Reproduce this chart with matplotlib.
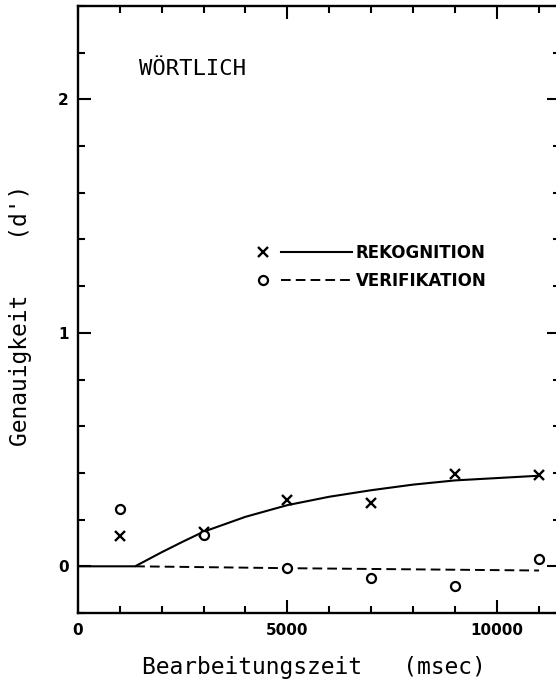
import matplotlib
matplotlib.use("Agg")
import matplotlib.pyplot as plt
from matplotlib.lines import Line2D
from matplotlib.legend_handler import HandlerTuple
from matplotlib.ticker import MultipleLocator, FormatStrFormatter

# data
time_ms = [1000, 3000, 5000, 7000, 9000, 11000]
rekognition = [0.13, 0.148, 0.285, 0.27, 0.395, 0.39]
verifikation = [0.245, 0.133, -0.008, -0.048, -0.084, 0.03]

# fitted curves
fit_rek_t = [0, 1370, 2000, 2500, 3000, 4000, 5000, 6000, 7000, 8000, 9000, 10000, 11000]
fit_rek_d = [0, 0, 0.060, 0.105, 0.148, 0.212, 0.262, 0.298, 0.326, 0.35, 0.368, 0.378, 0.388]
fit_ver_t = [1370, 5000, 11000]
fit_ver_d = [0, -0.008, -0.018]

labels = ['REKOGNITION', 'VERIFIKATION']

W, H = 556, 685
fig = plt.figure(figsize=(W / 100, H / 100), dpi=100)
# right spine sits just outside the scanned page
ax = fig.add_axes([77.7 / W, 1 - 613 / H, (560 - 77.7) / W, (613 - 6) / H])

## DATA
ax.plot(fit_rek_t, fit_rek_d, color='black', lw=1.5)
ax.plot(fit_ver_t, fit_ver_d, color='black', lw=1.4, dashes=(5, 2.6))
ax.plot(time_ms, rekognition, ls='none', marker='x', ms=7, mew=1.7, color='black')
ax.plot(time_ms, verifikation, ls='none', marker='o', ms=6.5, mew=1.6,
        mfc='white', mec='black')

## LEGEND  (marker, gap, line, text)
h_rek = (Line2D([], [], ls='none', marker='x', ms=7, mew=1.7, color='black'),
         Line2D([], [], color='black', lw=1.5))
h_ver = (Line2D([], [], ls='none', marker='o', ms=6.5, mew=1.6, mfc='white', mec='black'),
         Line2D([], [], color='black', lw=1.4, dashes=(5, 2.6)))
leg = ax.legend([h_rek, h_ver], labels,
                handler_map={tuple: HandlerTuple(ndivide=2, pad=-1.0)},
                loc='center left', bbox_to_anchor=(0.31, 0.57),
                frameon=False, borderpad=0, borderaxespad=0,
                handlelength=7.5, handletextpad=0.22, labelspacing=0.62,
                prop=dict(family='DejaVu Sans', weight='bold', size=12))

## TEXT
ax.text(0.237, 0.896, 'WÖRTLICH', transform=ax.transAxes, ha='center', va='center',
        family='DejaVu Sans Mono', fontsize=16)

ax.set_xlabel('Bearbeitungszeit   (msec)', family='DejaVu Sans Mono', fontsize=16.5,
              va='center')
ax.xaxis.set_label_coords(0.49, -0.0906)
ax.set_ylabel("Genauigkeit    (d')", family='DejaVu Sans Mono', fontsize=16.5,
              va='center')
ax.yaxis.set_label_coords(-0.1196, 0.491)

## FORMATTING
ax.set_xlim(0, 11500)
ax.set_ylim(-0.2, 2.4)
ax.xaxis.set_major_locator(MultipleLocator(5000))
ax.xaxis.set_minor_locator(MultipleLocator(1000))
ax.yaxis.set_major_locator(MultipleLocator(1))
ax.yaxis.set_minor_locator(MultipleLocator(0.2))
ax.xaxis.set_major_formatter(FormatStrFormatter('%d'))
ax.yaxis.set_major_formatter(FormatStrFormatter('%d'))

ax.tick_params(which='both', direction='in', top=True, right=True, width=1.5,
               color='black')
ax.tick_params(which='major', length=9.5)
ax.tick_params(which='minor', length=5)
ax.tick_params(axis='x', which='major', pad=7)
ax.tick_params(axis='y', which='major', pad=6.5)
for lab in ax.get_xticklabels() + ax.get_yticklabels():
    lab.set_fontweight('bold')
    lab.set_fontsize(11)
for sp in ax.spines.values():
    sp.set_linewidth(1.7)

fig.savefig('out.png', dpi=100)
